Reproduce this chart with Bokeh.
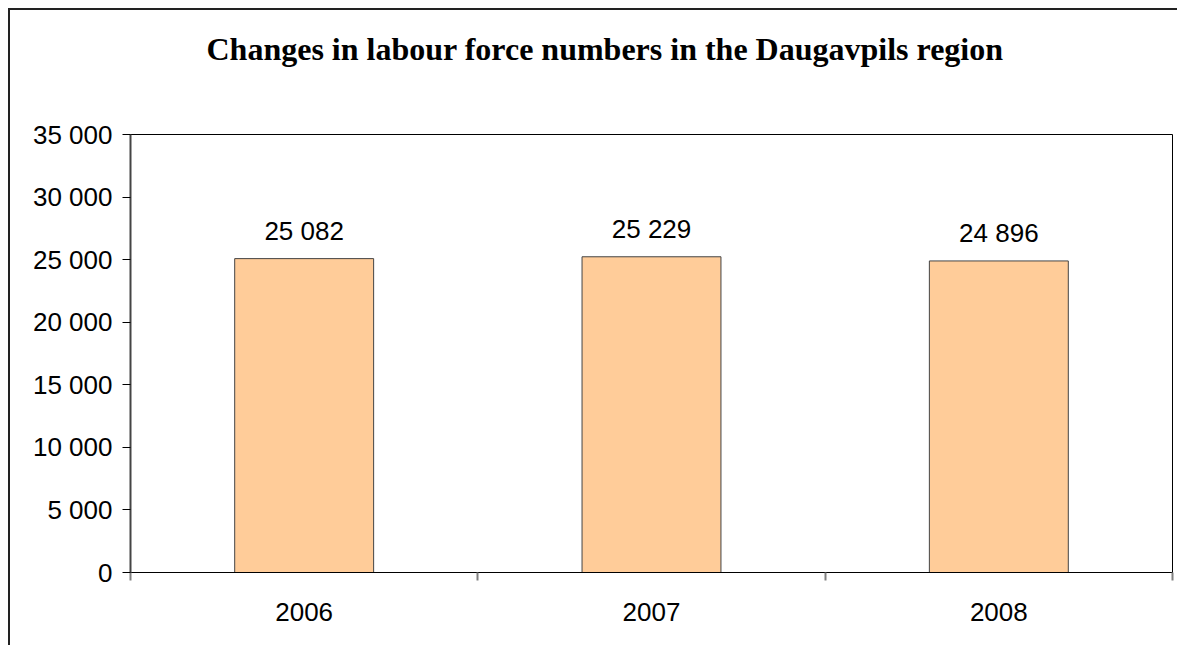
from bokeh.plotting import figure
from bokeh.models import ColumnDataSource, FixedTicker, LabelSet, Range1d, Title
from bokeh.core.properties import value
from bokeh.embed import file_html
from bokeh.resources import INLINE

years = ["2006", "2007", "2008"]
values = [25082, 25229, 24896]
y_ticks = [0, 5000, 10000, 15000, 20000, 25000, 30000, 35000]
title_text = "Changes in labour force numbers in the Daugavpils region"

def fmt(v):
    return f"{v:,}".replace(",", " ")

xs = [i + 0.5 for i in range(len(years))]
src = ColumnDataSource(dict(x=xs, top=values, label=[fmt(v) for v in values]))

p = figure(width=1169, height=637, output_backend="svg", toolbar_location=None,
           x_range=Range1d(0, len(years)), y_range=Range1d(0, 35000),
           min_border_left=120, min_border_right=7, min_border_top=124, min_border_bottom=75)
p.styles = {"margin-left": "8px", "margin-top": "8px",
            "border-left": "2px solid #222222", "border-top": "2px solid #222222"}
p.title = None

# spacer panel between the title and the plot frame
spacer = Title(text=" ", text_font_size="10px", standoff=53)
p.add_layout(spacer, "above")
title = Title(text=title_text, align="left", offset=76, vertical_align="top", standoff=0,
              text_font="Liberation Serif", text_font_size="32px",
              text_font_style="bold", text_color="black")
p.add_layout(title, "above")

p.vbar(x="x", top="top", width=0.4, bottom=0, source=src,
       fill_color="#FFCC99", line_color="#444444", line_width=1)

labels = LabelSet(x="x", y="top", text="label", source=src, text_align="center",
                  text_baseline="alphabetic", y_offset=19,
                  text_font=value("Liberation Sans"),
                  text_font_size=value("26px"), text_color="black")
p.add_layout(labels)

p.grid.visible = False
p.outline_line_color = "black"
p.outline_line_width = 1
p.background_fill_color = "white"
p.border_fill_color = "white"

# x axis
xa = p.xaxis[0]
xa.ticker = FixedTicker(ticks=xs, minor_ticks=list(range(len(years) + 1)))
xa.major_label_overrides = {x: y for x, y in zip(xs, years)}
xa.major_tick_out = 0
xa.major_tick_in = 0
xa.minor_tick_out = 8
xa.minor_tick_in = 0
xa.minor_tick_line_color = "#808080"
xa.minor_tick_line_width = 2
xa.axis_line_color = "black"
xa.axis_line_width = 1
xa.major_label_standoff = 22
xa.major_label_text_font = "Liberation Sans"
xa.major_label_text_font_size = "26px"
xa.major_label_text_color = "black"

# y axis
ya = p.yaxis[0]
ya.ticker = FixedTicker(ticks=y_ticks, minor_ticks=[])
ya.major_label_overrides = {v: fmt(v) for v in y_ticks}
ya.major_tick_out = 8
ya.major_tick_in = 0
ya.major_tick_line_color = "black"
ya.axis_line_color = "#444444"
ya.axis_line_width = 2
ya.major_label_standoff = 10
ya.major_label_text_font = "Liberation Sans"
ya.major_label_text_font_size = "26px"
ya.major_label_text_color = "black"

open("out.html", "w").write(file_html(p, INLINE))
